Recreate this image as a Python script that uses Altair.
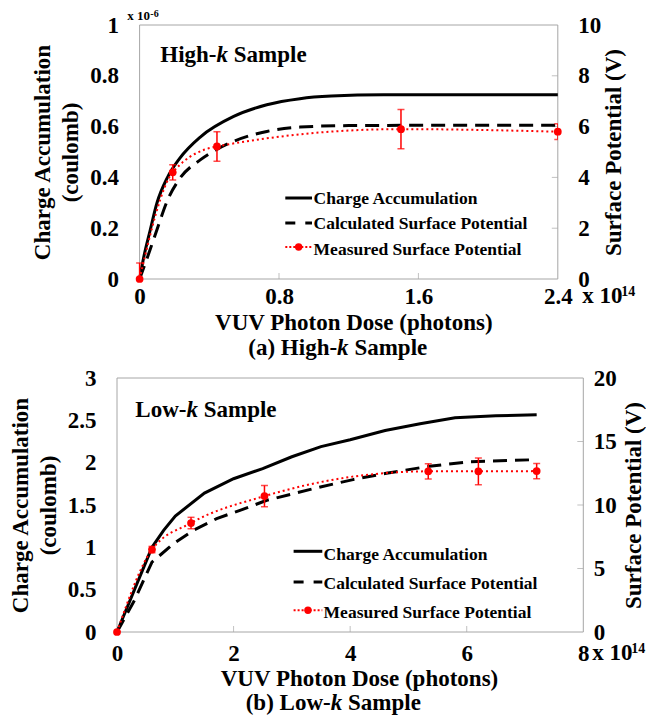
import altair as alt
import pandas as pd

FONT = "Liberation Serif"

# ---------------- data ----------------
# (a) High-k sample   (x: VUV photon dose in 10^14 photons)
hk_charge_x = [0, 0.025, 0.06, 0.1, 0.16, 0.23, 0.35, 0.54, 0.73, 0.92, 1.1, 1.4, 1.8, 2.4]
hk_charge_y = [0, 0.09, 0.19, 0.30, 0.40, 0.475, 0.56, 0.64, 0.686, 0.71, 0.72, 0.725, 0.725, 0.725]  # 10^-6 C
hk_calc_x = [0, 0.06, 0.1, 0.16, 0.23, 0.35, 0.44, 0.54, 0.73, 0.92, 1.2, 1.6, 2.4]
hk_calc_y = [0, 1.15, 1.95, 3.1, 3.95, 4.7, 5.09, 5.42, 5.81, 5.98, 6.04, 6.05, 6.05]  # V
hk_meas_x = [0, 0.19, 0.444, 1.5, 2.4]
hk_meas_y = [0, 4.2, 5.22, 5.9, 5.8]
hk_meas_err = [0.63, 0.3, 0.58, 0.77, 0.31]

# (b) Low-k sample
lk_charge_x = [0, 0.3, 0.6, 0.8, 1.0, 1.5, 2.0, 2.5, 3.0, 3.5, 4.0, 4.6, 5.2, 5.8, 6.5, 7.2]
lk_charge_y = [0, 0.5, 1.0, 1.2, 1.37, 1.64, 1.81, 1.93, 2.07, 2.19, 2.27, 2.38, 2.46, 2.53, 2.555, 2.565]
lk_calc_x = [0, 0.3, 0.6, 0.97, 1.31, 1.71, 2.11, 2.57, 3.03, 3.49, 4.05, 4.62, 5.36, 6.05, 7.18]
lk_calc_y = [0, 2.5, 5.5, 6.96, 8.0, 8.93, 9.58, 10.37, 10.9, 11.42, 12.0, 12.5, 13.05, 13.4, 13.57]
lk_meas_x = [0, 0.6, 1.27, 2.53, 5.34, 6.2, 7.2]
lk_meas_y = [0, 6.49, 8.58, 10.7, 12.65, 12.65, 12.67]
lk_meas_err = [0, 0.25, 0.45, 0.83, 0.6, 1.05, 0.6]

hk_x_ticks = [0, 0.8, 1.6, 2.4]
hk_yl_ticks = [0, 0.2, 0.4, 0.6, 0.8, 1]
hk_yr_ticks = [0, 2, 4, 6, 8, 10]
lk_x_ticks = [0, 2, 4, 6, 8]
lk_yl_ticks = [0, 0.5, 1, 1.5, 2, 2.5, 3]
lk_yr_ticks = [0, 5, 10, 15, 20]

legend_labels = ["Charge Accumulation", "Calculated Surface Potential", "Measured Surface Potential"]
x_title = "VUV Photon Dose (photons)"
yl_title = ["Charge Accumulation", "(coulomb)"]
yr_title = "Surface Potential (V)"
FRAME = "#a6a6a6"


def txt(s, x, y, size, align="left", italic=False, color="black"):
    return alt.Chart(pd.DataFrame({"t": [s]})).mark_text(
        align=align, baseline="alphabetic", font=FONT, fontSize=size,
        fontWeight="bold", fontStyle="italic" if italic else "normal", color=color
    ).encode(x=alt.value(x), y=alt.value(y), text="t:N")


def one():
    return pd.DataFrame({"a": [0]})


def legend(x0, x1, sym_ys, tx, txt_ys):
    out = []
    out.append(alt.Chart(one()).mark_rule(color="black", strokeWidth=3).encode(
        x=alt.value(x0), x2=alt.value(x1), y=alt.value(sym_ys[0])))
    out.append(alt.Chart(one()).mark_rule(color="black", strokeWidth=3, strokeDash=[10, 10]).encode(
        x=alt.value(x0), x2=alt.value(x1), y=alt.value(sym_ys[1])))
    out.append(alt.Chart(one()).mark_rule(color="red", strokeWidth=2, strokeDash=[2, 2]).encode(
        x=alt.value(x0), x2=alt.value(x1), y=alt.value(sym_ys[2])))
    out.append(alt.Chart(one()).mark_circle(color="red", size=55, opacity=1).encode(
        x=alt.value((x0 + x1) / 2), y=alt.value(sym_ys[2])))
    for lab, yy in zip(legend_labels, txt_ys):
        out.append(txt(lab, tx, yy, 17.5))
    return out


def panel(cx, cy, dx, dy, mx, my, me, xmax, xticks, ylmax, ylticks, yrmax, yrticks,
          W, H, interp, c):
    x0 = c["x0"]  # left edge of the framed plot inside the view
    xs = alt.Scale(domain=[0, xmax], nice=False, zero=False, range=[x0, W])
    xax = alt.Axis(values=xticks, title=x_title, format="~f", labelFlush=False,
                   labelPadding=c["xlp"], labelBaseline="alphabetic",
                   titleX=c["xtx"], titleY=c["xty"], titleBaseline="alphabetic",
                   titleAlign="center")
    X = alt.X("x:Q", scale=xs, axis=xax)
    yl = alt.Y("y:Q", scale=alt.Scale(domain=[0, ylmax], nice=False),
               axis=alt.Axis(orient="left", values=ylticks, title=yl_title, format="~f",
                             offset=-x0, labelPadding=21, titleAngle=270, titleX=-97,
                             titleY=H / 2, titleBaseline="middle", titleAlign="center",
                             titleLineHeight=28))
    yr_scale = alt.Scale(domain=[0, yrmax], nice=False)
    yr_axis = alt.Axis(orient="right", values=yrticks, title=yr_title, format="~f",
                       labelPadding=c["rlp"], titleAngle=270, titleX=c["rtx"], titleY=H / 2,
                       titleBaseline="middle", titleAlign="center")

    frame = alt.Chart(one()).mark_rect(fillOpacity=0, stroke=FRAME, strokeWidth=1).encode(
        x=alt.value(x0), x2=alt.value(W), y=alt.value(0), y2=alt.value(H))

    # small inside tick marks (Excel style) at the interior tick values
    xtick_marks = alt.Chart(pd.DataFrame({"x": xticks[1:-1]})).mark_tick(
        orient="vertical", size=6, thickness=1, color=FRAME).encode(
        x=X, y=alt.value(H - 3))

    charge = alt.Chart(pd.DataFrame({"x": cx, "y": cy})).mark_line(
        color="black", strokeWidth=3, interpolate=interp).encode(x=X, y=yl)

    Yr = alt.Y("v:Q", scale=yr_scale, axis=yr_axis)
    rtick_marks = alt.Chart(pd.DataFrame({"v": yrticks[1:-1]})).mark_tick(
        orient="horizontal", size=6, thickness=1, color=FRAME).encode(
        x=alt.value(W - 3), y=Yr)

    calc = alt.Chart(pd.DataFrame({"x": dx, "v": dy})).mark_line(
        color="black", strokeWidth=3, strokeDash=[14, 8], interpolate=interp).encode(
        x=X, y=Yr)

    mdf = pd.DataFrame({"x": mx, "v": my,
                        "lo": [a - b for a, b in zip(my, me)],
                        "hi": [a + b for a, b in zip(my, me)]})
    meas_line = alt.Chart(mdf).mark_line(
        color="red", strokeWidth=2, strokeDash=[2, 3], interpolate="monotone").encode(
        x=X, y=Yr)
    err = alt.Chart(mdf).mark_rule(color="red", strokeWidth=1.5, clip=True).encode(
        x=X, y=alt.Y("lo:Q", scale=yr_scale, axis=yr_axis), y2="hi:Q")
    cap_lo = alt.Chart(mdf).mark_tick(color="red", orient="horizontal", size=7, thickness=1.5,
                                      clip=True).encode(
        x=X, y=alt.Y("lo:Q", scale=yr_scale, axis=yr_axis))
    cap_hi = alt.Chart(mdf).mark_tick(color="red", orient="horizontal", size=7, thickness=1.5,
                                      clip=True).encode(
        x=X, y=alt.Y("hi:Q", scale=yr_scale, axis=yr_axis))
    pts = alt.Chart(mdf).mark_circle(color="red", size=60, opacity=1).encode(x=X, y=Yr)

    right = alt.layer(rtick_marks, calc, meas_line, err, cap_lo, cap_hi, pts)

    deco = []
    # in-plot sample label
    deco.append(txt(c["lab1"], c["lab_x"], c["lab_y"], 23))
    deco.append(txt("k", c["lab_k"], c["lab_y"], 23, italic=True))
    deco.append(txt("Sample", c["lab_k"] + 17.3, c["lab_y"], 23))
    # caption under the axis title
    deco.append(txt(c["cap1"], c["cap_k"], c["cap_y"], 23, align="right"))
    deco.append(txt("k", c["cap_k"], c["cap_y"], 23, italic=True))
    deco.append(txt("Sample", c["cap_k"] + 17.3, c["cap_y"], 23))
    # x-axis multiplier
    deco.append(txt("x 10", c["mx_x"], c["mx_y"], 23))
    deco.append(txt("14", c["mx_x"] + 39, c["mx_y"] - 7, 14))
    deco += c.get("extra", [])
    deco += legend(c["lg_x0"], c["lg_x1"], c["lg_sym"], c["lg_tx"], c["lg_ty"])

    return alt.layer(frame, xtick_marks, charge, right, *deco).resolve_scale(
        y="independent").properties(
        width=W, height=H, view=alt.ViewBackground(stroke="transparent"))


# top plot frame starts 22.6 px right of the lower one
top_cfg = dict(x0=22.6, xlp=24, xtx=236.3, xty=50, rlp=20, rtx=56,
               lab1="High-", lab_x=43.3, lab_y=37, lab_k=99.5,
               cap1="(a) High-", cap_k=220.1, cap_y=330,
               mx_x=465.3, mx_y=278,
               lg_x0=168.3, lg_x1=195, lg_sym=[173, 198, 222], lg_tx=196.6,
               lg_ty=[178.7, 203.7, 229.7],
               extra=[txt("x 10", 10.3, -5, 13), txt("-6", 33.3, -8, 10)])

bot_cfg = dict(x0=0, xlp=28, xtx=242, xty=53, rlp=10, rtx=50,
               lab1="Low-", lab_x=18.3, lab_y=39.3, lab_k=69.4,
               cap1="(b) Low-", cap_k=213.7, cap_y=332,
               mx_x=475.3, mx_y=282,
               lg_x0=176.6, lg_x1=205.3, lg_sym=[173.3, 204, 232.3], lg_tx=206.6,
               lg_ty=[182.3, 211.3, 240.3])

top = panel(hk_charge_x, hk_charge_y, hk_calc_x, hk_calc_y, hk_meas_x, hk_meas_y, hk_meas_err,
            2.4, hk_x_ticks, 1, hk_yl_ticks, 10, hk_yr_ticks, 440.8, 254, "monotone", top_cfg)
bottom = panel(lk_charge_x, lk_charge_y, lk_calc_x, lk_calc_y, lk_meas_x, lk_meas_y, lk_meas_err,
               8, lk_x_ticks, 3, lk_yl_ticks, 20, lk_yr_ticks, 466.3, 254, "linear", bot_cfg)

chart = alt.vconcat(top, bottom, spacing=5).properties(
    padding={"left": 0, "top": 0, "right": 0, "bottom": 0}
).configure_view(stroke=FRAME, strokeWidth=1).configure_axis(
    labelFont=FONT, labelFontSize=23, labelFontWeight="bold", labelColor="black",
    titleFont=FONT, titleFontSize=23, titleFontWeight="bold", titleColor="black",
    grid=False, domain=False, ticks=False, tickSize=0
)

chart.save("out.html", embed_options={"renderer": "svg", "actions": False})
